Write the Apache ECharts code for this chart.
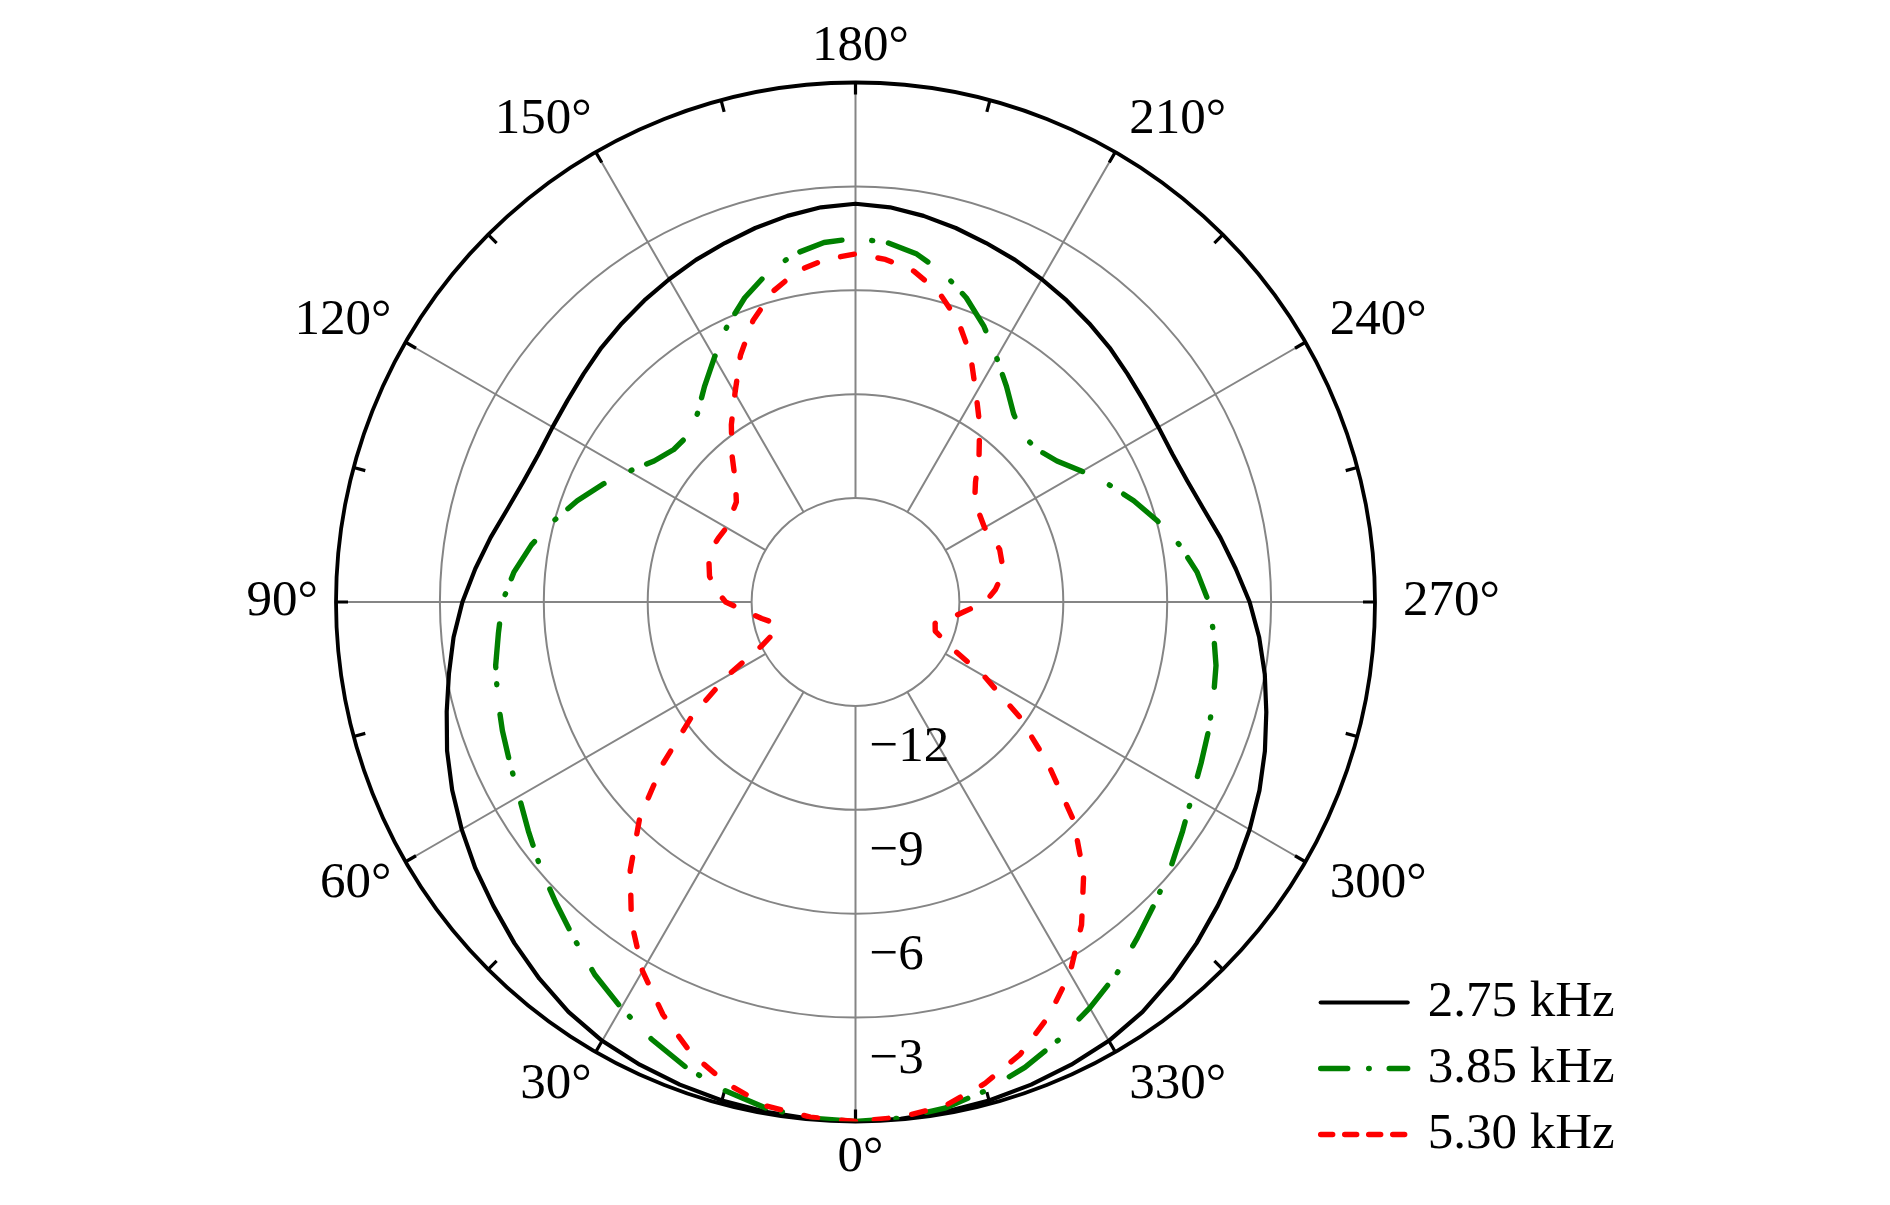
<!DOCTYPE html>
<html>
<head>
<meta charset="utf-8">
<script src="https://cdn.jsdelivr.net/npm/echarts@6/dist/echarts.min.js"></script>
<style>
  html, body { margin: 0; padding: 0; background: #ffffff; }
  #chart { width: 1890px; height: 1205px; }
</style>
</head>
<body>
<div id="chart"></div>
<script>
// ---------------- data ----------------
const angles = [
  0, 5, 10, 15, 20, 25, 30, 35, 40, 45, 50, 55,
  60, 65, 70, 75, 80, 85, 90, 95, 100, 105, 110, 115,
  120, 125, 130, 135, 140, 145, 150, 155, 160, 165, 170, 175,
  180, 185, 190, 195, 200, 205, 210, 215, 220, 225, 230, 235,
  240, 245, 250, 255, 260, 265, 270, 275, 280, 285, 290, 295,
  300, 305, 310, 315, 320, 325, 330, 335, 340, 345, 350, 355,
  360
];

const gain275 = [
  0, -0.02, -0.05, -0.1, -0.17, -0.26, -0.37, -0.55, -0.8, -1.07, -1.35, -1.6,
  -1.87, -2.15, -2.45, -2.78, -3.08, -3.35, -3.65, -3.98, -4.3, -4.6, -4.8, -4.9,
  -4.9, -4.85, -4.75, -4.62, -4.5, -4.37, -4.24, -4.1, -3.97, -3.82, -3.68, -3.56,
  -3.5, -3.56, -3.68, -3.82, -3.97, -4.1, -4.24, -4.37, -4.5, -4.62, -4.75, -4.85,
  -4.9, -4.9, -4.8, -4.6, -4.3, -3.98, -3.62, -3.3, -3.0, -2.72, -2.42, -2.13,
  -1.86, -1.6, -1.35, -1.07, -0.8, -0.55, -0.37, -0.26, -0.17, -0.1, -0.05, -0.02,
  0
];

const gain385 = [
  0, -0.04, -0.16, -0.4, -0.7, -1.07, -1.47, -1.87, -2.34, -2.75, -3.11, -3.47,
  -3.78, -3.99, -4.15, -4.3, -4.45, -4.65, -4.8, -5.1, -5.5, -5.97, -6.45, -6.95,
  -7.45, -7.9, -8.15, -8.18, -7.9, -7.4, -6.85, -6.22, -5.65, -5.17, -4.8, -4.58,
  -4.5, -4.58, -4.8, -5.17, -5.65, -6.22, -6.85, -7.4, -7.9, -8.18, -8.15, -7.9,
  -7.45, -6.95, -6.45, -5.97, -5.5, -5.1, -4.8, -4.62, -4.43, -4.3, -4.15, -3.99,
  -3.78, -3.47, -3.11, -2.75, -2.34, -1.87, -1.47, -1.07, -0.7, -0.4, -0.16, -0.04,
  0
];

const gain530 = [
  0, -0.07, -0.22, -0.61, -1.13, -1.85, -2.7, -3.72, -4.88, -6.19, -7.75, -9.22,
  -10.7, -12.02, -12.55, -12.62, -12.25, -11.84, -11.25, -10.95, -10.72, -10.62, -10.57, -10.63,
  -10.7, -10.62, -10.51, -10.1, -9.45, -8.75, -8.04, -7.14, -6.35, -5.73, -5.3, -5.07,
  -4.95, -5.07, -5.3, -5.73, -6.35, -7.14, -8.04, -8.75, -9.45, -10.1, -10.51, -10.62,
  -10.7, -10.63, -10.57, -10.62, -10.72, -10.95, -11.25, -11.84, -12.25, -12.62, -12.55, -12.02,
  -10.7, -9.22, -7.75, -6.1, -4.75, -3.62, -2.62, -1.8, -1.1, -0.6, -0.22, -0.07,
  0
];

const seriesNames = ['2.75 kHz', '3.85 kHz', '5.30 kHz'];
const angleTickValues = [0, 30, 60, 90, 120, 150, 180, 210, 240, 270, 300, 330];
const angleTickLabels = ['0°', '30°', '60°', '90°', '120°', '150°', '180°', '210°', '240°', '270°', '300°', '330°'];
const radialTickValues = [-12, -9, -6, -3];
const radialTickLabels = ['\u221212', '\u22129', '\u22126', '\u22123'];

// ---------------- layout / style ----------------
const CX = 855.5, CY = 602, R_OUT = 519.5, R_IN = R_OUT / 5;
const FONT = 'Liberation Serif';
const FS = 51;
const GRID_GRAY = '#858585';
const W_BLACK = 4.2, W_DASH = 5.4;

function pairs(vals) { return angles.map((a, i) => [vals[i], a]); }

const chart = echarts.init(document.getElementById('chart'), null, { renderer: 'canvas' });

const option = {
  backgroundColor: '#ffffff',
  animation: false,
  polar: [
    { center: [CX, CY], radius: [0, R_OUT] },
    { center: [CX, CY], radius: [R_IN, R_OUT] }
  ],
  angleAxis: [
    {
      polarIndex: 0, type: 'value', min: 0, max: 360, interval: 30,
      startAngle: 270, clockwise: true, z: 3,
      axisLine: { show: true, lineStyle: { color: '#000000', width: 3.8 } },
      axisTick: { show: true, inside: true, length: 12, lineStyle: { color: '#000000', width: 3.2 } },
      minorTick: { show: true, splitNumber: 2, length: 12, lineStyle: { color: '#000000', width: 3.2 } },
      splitLine: { show: false },
      axisLabel: {
        show: true, margin: 28, lineHeight: 16, padding: [0, -10, 0, 0],
        fontFamily: FONT, fontSize: FS, color: '#000000',
        formatter: function (v) {
          const i = angleTickValues.indexOf(Math.round(v));
          return i >= 0 ? angleTickLabels[i] : '';
        }
      }
    },
    {
      polarIndex: 1, type: 'value', min: 0, max: 360, interval: 30,
      startAngle: 270, clockwise: true,
      axisLine: { show: false }, axisTick: { show: false }, axisLabel: { show: false },
      splitLine: { show: true, lineStyle: { color: GRID_GRAY, width: 2 } }
    }
  ],
  radiusAxis: [
    {
      polarIndex: 0, type: 'value', min: -15, max: 0, interval: 3,
      axisLine: { show: false }, axisTick: { show: false },
      splitLine: { show: true, lineStyle: { color: GRID_GRAY, width: 2 } },
      axisLabel: {
        show: true, margin: 14, verticalAlign: 'top', lineHeight: 84,
        fontFamily: FONT, fontSize: FS, color: '#000000',
        formatter: function (v) {
          const i = radialTickValues.indexOf(Math.round(v));
          return i >= 0 ? radialTickLabels[i] : '';
        }
      }
    },
    {
      polarIndex: 1, type: 'value', min: 0, max: 1,
      axisLine: { show: false }, axisTick: { show: false },
      axisLabel: { show: false }, splitLine: { show: false }
    }
  ],
  legend: {
    orient: 'vertical',
    left: 1313, top: 972,
    itemWidth: 87, itemHeight: 20, itemGap: 15,
    itemStyle: { color: 'rgba(0,0,0,0)', borderWidth: 0, opacity: 0 },
    textStyle: { fontFamily: FONT, fontSize: FS, color: '#000000', lineHeight: 50, padding: [0, 0, 0, 15] },
    data: [
      { name: seriesNames[0], lineStyle: { width: W_BLACK, type: 'solid', cap: 'round' } },
      { name: seriesNames[1], lineStyle: { width: W_DASH, type: [27, 21, 0.5, 20], cap: 'round' } },
      { name: seriesNames[2], lineStyle: { width: W_DASH, type: [12, 12], cap: 'round' } }
    ]
  },
  series: [
    {
      name: seriesNames[0], type: 'line', coordinateSystem: 'polar', polarIndex: 0,
      symbol: 'none', smooth: false, z: 5,
      lineStyle: { color: '#000000', width: W_BLACK, cap: 'round', join: 'round' },
      itemStyle: { color: '#000000' },
      data: pairs(gain275)
    },
    {
      name: seriesNames[1], type: 'line', coordinateSystem: 'polar', polarIndex: 0,
      symbol: 'none', smooth: false, z: 6,
      lineStyle: { color: '#008000', width: W_DASH, type: [44, 30, 1, 16], cap: 'round', join: 'round' },
      itemStyle: { color: '#008000' },
      data: pairs(gain385)
    },
    {
      name: seriesNames[2], type: 'line', coordinateSystem: 'polar', polarIndex: 0,
      symbol: 'none', smooth: false, z: 7,
      lineStyle: { color: '#ff0000', width: W_DASH, type: [14, 24], cap: 'round', join: 'round' },
      itemStyle: { color: '#ff0000' },
      data: pairs(gain530)
    }
  ]
};

chart.setOption(option);
</script>
</body>
</html>
